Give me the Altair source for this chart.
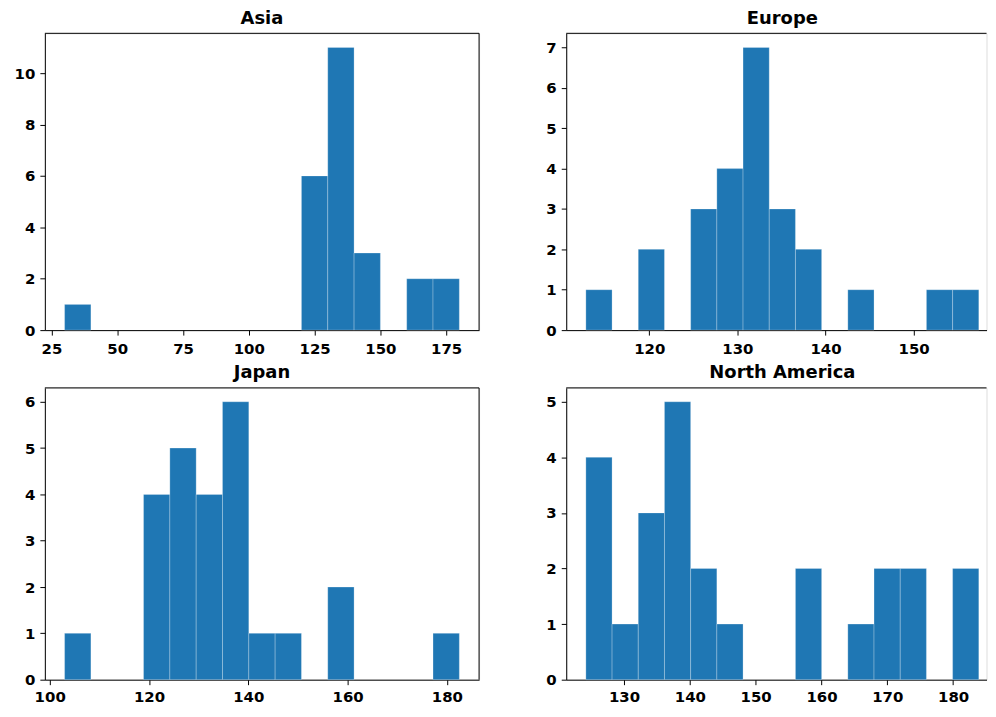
import altair as alt
import pandas as pd

# ---- data (15 bins per panel) ----
regions = ["Asia", "Europe", "Japan", "North America"]

asia_counts = [1, 0, 0, 0, 0, 0, 0, 0, 0, 6, 11, 3, 0, 2, 2]
asia_range = [30.0, 180.0]
asia_xticks = [25, 50, 75, 100, 125, 150, 175]
asia_yticks = [0, 2, 4, 6, 8, 10]

europe_counts = [1, 0, 2, 0, 3, 4, 7, 3, 2, 0, 1, 0, 0, 1, 1]
europe_range = [112.8, 157.4]
europe_xticks = [120, 130, 140, 150]
europe_yticks = [0, 1, 2, 3, 4, 5, 6, 7]

japan_counts = [1, 0, 0, 4, 5, 4, 6, 1, 1, 0, 2, 0, 0, 0, 1]
japan_range = [103.0, 182.5]
japan_xticks = [100, 120, 140, 160, 180]
japan_yticks = [0, 1, 2, 3, 4, 5, 6]

na_counts = [4, 1, 3, 5, 2, 1, 0, 0, 2, 0, 1, 2, 2, 0, 2]
na_range = [124.2, 183.9]
na_xticks = [130, 140, 150, 160, 170, 180]
na_yticks = [0, 1, 2, 3, 4, 5]

BAR = "#1f77b4"
FONT = "DejaVu Sans"
FULL_W = 434  # full axes width of the right-hand panels (they run off the page edge)


def panel(title, counts, rng, xticks, yticks, width, height, cut=False, label_pad=6, x_extent=26):
    n = len(counts)
    step = (rng[1] - rng[0]) / n
    df = pd.DataFrame({
        "start": [rng[0] + i * step for i in range(n)],
        "end": [rng[0] + (i + 1) * step for i in range(n)],
        "count": counts,
        "zero": [0] * n,
    })
    df = df[df["count"] > 0]
    span = rng[1] - rng[0]
    lo = rng[0] - 0.05 * span
    hi = rng[1] + 0.05 * span
    if cut:
        hi = lo + (hi - lo) * width / FULL_W
    ymax = max(counts) * 1.05

    xaxis = alt.Axis(values=xticks, title=None, grid=False, tickSize=5, labelPadding=label_pad,
                     domainColor="black", tickColor="black", labelColor="black",
                     labelFont=FONT, labelFontSize=15, labelFontWeight="bold",
                     minExtent=x_extent, maxExtent=x_extent, labelFlush=False, labelOverlap=False)
    yaxis = alt.Axis(values=yticks, title=None, grid=False, tickSize=5, labelPadding=5,
                     domainColor="black", tickColor="black", labelColor="black",
                     labelFont=FONT, labelFontSize=15, labelFontWeight="bold",
                     minExtent=31, maxExtent=31, format="d")

    bars = alt.Chart(df).mark_rect(color=BAR, stroke="#ffffff", strokeWidth=0.5,
                                   strokeOpacity=0.5).encode(
        x=alt.X("start:Q", scale=alt.Scale(domain=[lo, hi], nice=False, zero=False), axis=xaxis),
        x2="end:Q",
        y=alt.Y("count:Q", scale=alt.Scale(domain=[0, ymax], nice=False), axis=yaxis),
        y2="zero:Q",
    )
    one = pd.DataFrame({"k": [0]})
    top = alt.Chart(one).mark_rule(color="black", strokeWidth=1).encode(
        x=alt.value(0), x2=alt.value(width), y=alt.value(0))
    layers = [bars, top]
    if not cut:
        right = alt.Chart(one).mark_rule(color="black", strokeWidth=1).encode(
            x=alt.value(width), y=alt.value(0), y2=alt.value(height))
        layers.append(right)
    dx = (FULL_W - width) / 2 if cut else 0
    return alt.layer(*layers).properties(
        width=width, height=height,
        title=alt.TitleParams(title, font=FONT, fontSize=18, fontWeight="bold",
                              color="black", offset=5, anchor="middle", dx=dx))


p1 = panel(regions[0], asia_counts, asia_range, asia_xticks, asia_yticks, 436, 298)
p2 = panel(regions[1], europe_counts, europe_range, europe_xticks, europe_yticks, 422, 298, cut=True)
p3 = panel(regions[2], japan_counts, japan_range, japan_xticks, japan_yticks, 436, 293,
           label_pad=5, x_extent=25)
p4 = panel(regions[3], na_counts, na_range, na_xticks, na_yticks, 422, 293, cut=True,
           label_pad=5, x_extent=25)

chart = alt.vconcat(
    alt.hconcat(p1, p2, spacing=54.5),
    alt.hconcat(p3, p4, spacing=54.5),
    spacing=7,
).properties(
    padding={"left": 5, "top": 0, "right": 0, "bottom": 0}
).configure_view(strokeWidth=0).configure(background="white")

chart.save("out.html", embed_options={"renderer": "svg", "actions": False})
